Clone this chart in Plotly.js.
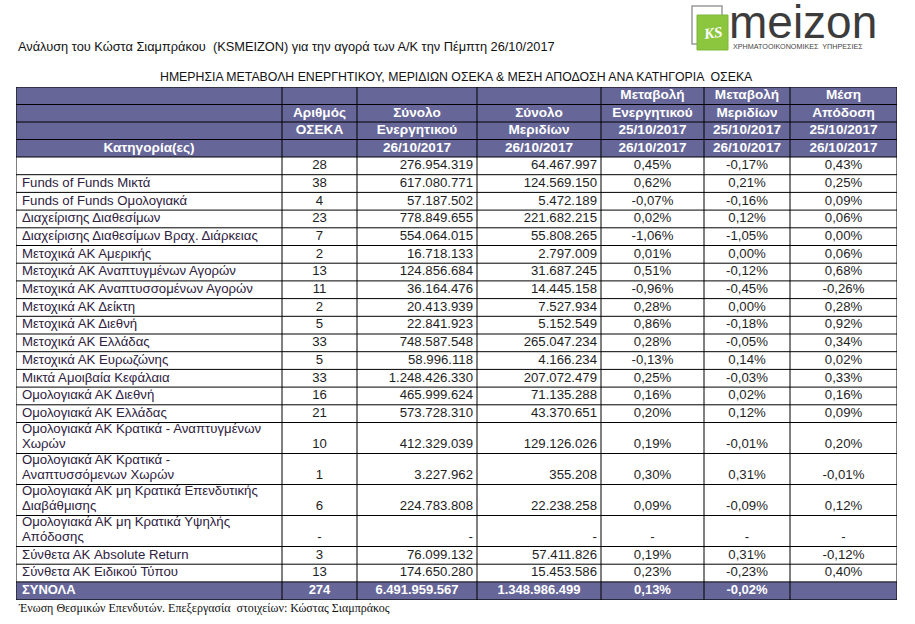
<!DOCTYPE html>
<html><head><meta charset="utf-8">
<script src="https://cdn.plot.ly/plotly-3.0.1.min.js"></script>
<style>html,body{margin:0;padding:0;background:#fff}</style>
</head><body><div id="chart" style="width:915px;height:624px"></div>
<script>
// ---- data ----
const categories = ["", "Funds of Funds Μικτά", "Funds of Funds Ομολογιακά", "Διαχείρισης Διαθεσίμων",
  "Διαχείρισης Διαθεσίμων Βραχ. Διάρκειας", "Μετοχικά ΑΚ Αμερικής", "Μετοχικά ΑΚ Αναπτυγμένων Αγορών",
  "Μετοχικά ΑΚ Αναπτυσσομένων Αγορών", "Μετοχικά ΑΚ Δείκτη", "Μετοχικά ΑΚ Διεθνή", "Μετοχικά ΑΚ Ελλάδας",
  "Μετοχικά ΑΚ Ευρωζώνης", "Μικτά Αμοιβαία Κεφάλαια", "Ομολογιακά ΑΚ Διεθνή", "Ομολογιακά ΑΚ Ελλάδας",
  "Ομολογιακά ΑΚ Κρατικά - Αναπτυγμένων<br>Χωρών", "Ομολογιακά ΑΚ Κρατικά -<br>Αναπτυσσόμενων Χωρών",
  "Ομολογιακά ΑΚ μη Κρατικά Επενδυτικής<br>Διαβάθμισης", "Ομολογιακά ΑΚ μη Κρατικά Υψηλής<br>Απόδοσης",
  "Σύνθετα ΑΚ Absolute Return", "Σύνθετα ΑΚ Ειδικού Τύπου"];
const fundCounts = [28, 38, 4, 23, 7, 2, 13, 11, 2, 5, 33, 5, 33, 16, 21, 10, 1, 6, null, 3, 13];
const totalAssets = [276954319, 617080771, 57187502, 778849655, 554064015, 16718133, 124856684, 36164476,
  20413939, 22841923, 748587548, 58996118, 1248426330, 465999624, 573728310, 412329039, 3227962,
  224783808, null, 76099132, 174650280];
const totalUnits = [64467997, 124569150, 5472189, 221682215, 55808265, 2797009, 31687245, 14445158,
  7527934, 5152549, 265047234, 4166234, 207072479, 71135288, 43370651, 129126026, 355208,
  22238258, null, 57411826, 15453586];
const assetChange = [0.45, 0.62, -0.07, 0.02, -1.06, 0.01, 0.51, -0.96, 0.28, 0.86, 0.28, -0.13, 0.25,
  0.16, 0.20, 0.19, 0.30, 0.09, null, 0.19, 0.23];
const unitChange = [-0.17, 0.21, -0.16, 0.12, -1.05, 0.00, -0.12, -0.45, 0.00, -0.18, -0.05, 0.14, -0.03,
  0.02, 0.12, -0.01, 0.31, -0.09, null, 0.31, -0.23];
const avgReturn = [0.43, 0.25, 0.09, 0.06, 0.00, 0.06, 0.68, -0.26, 0.28, 0.92, 0.34, 0.02, 0.33,
  0.16, 0.09, 0.20, -0.01, 0.12, null, -0.12, 0.40];
const totalsRow = ["ΣΥΝΟΛΑ", 274, 6491959567, 1348986499, 0.13, -0.02, null];
const headerCols = [
  ["", "", "", "Κατηγορία(ες)"],
  ["", "Αριθμός", "ΟΣΕΚΑ", ""],
  ["", "Σύνολο", "Ενεργητικού", "26/10/2017"],
  ["", "Σύνολο", "Μεριδίων", "26/10/2017"],
  ["Μεταβολή", "Ενεργητικού", "25/10/2017", "26/10/2017"],
  ["Μεταβολή", "Μεριδίων", "25/10/2017", "26/10/2017"],
  ["Μέση", "Απόδοση", "25/10/2017", "26/10/2017"]
];
const titleText = "Ανάλυση του Κώστα Σιαμπράκου  (KSMEIZON) για την αγορά των Α/Κ την Πέμπτη 26/10/2017";
const subtitleText = "ΗΜΕΡΗΣΙΑ ΜΕΤΑΒΟΛΗ ΕΝΕΡΓΗΤΙΚΟΥ, ΜΕΡΙΔΙΩΝ ΟΣΕΚΑ & ΜΕΣΗ ΑΠΟΔΟΣΗ ΑΝΑ ΚΑΤΗΓΟΡΙΑ  ΟΣΕΚΑ";
const footerText = "Ένωση Θεσμικών Επενδυτών. Επεξεργασία  στοιχείων: Κώστας Σιαμπράκος";

// ---- styles / geometry ----
const W = 915, H = 624;
const TABLE_LEFT = 16, TABLE_TOP = 87;
const colWidths = [266, 75, 120, 124, 103, 86, 107];
const colAlign = ["left", "center", "right", "right", "center", "center", "center"];
const HEADER_ROW_H = 17.5, ROW_H = 17.7, DBL_ROW_H = 31, TOTAL_ROW_H = 18;
const LINE_GAP = 15;
const HEAD = "#666699";
const FONT = "Liberation Sans, Arial, sans-serif";
const BODY_SIZE = 13.2, HEAD_SIZE = 13.6, TOTAL_SIZE = 13;

// ---- formatting ----
function fmtInt(n) {
  if (n === null || n === undefined) return "-";
  return String(Math.round(n)).replace(/\B(?=(\d{3})+(?!\d))/g, ".");
}
function fmtPct(v) {
  if (v === null || v === undefined) return "-";
  return v.toFixed(2).replace(".", ",") + "%";
}
const nData = categories.length;
const catLines = categories.map(c => c.split("<br>"));
const colFmt = [x => x, fmtInt, fmtInt, fmtInt, fmtPct, fmtPct, fmtPct];
const colData = [categories, fundCounts, totalAssets, totalUnits, assetChange, unitChange, avgReturn];
const totFmt = [x => x, fmtInt, fmtInt, fmtInt, fmtPct, fmtPct, v => (v === null ? "" : fmtPct(v))];

// row geometry
const rowHeights = [];
for (let i = 0; i < 4; i++) rowHeights.push(HEADER_ROW_H);
catLines.forEach(l => rowHeights.push(l.length > 1 ? DBL_ROW_H : ROW_H));
rowHeights.push(TOTAL_ROW_H);
const rowEdges = [0];
rowHeights.forEach(h => rowEdges.push(rowEdges[rowEdges.length - 1] + h));
const tableH = rowEdges[rowEdges.length - 1];
const rowMid = rowHeights.map((h, i) => rowEdges[i] + h / 2);
// y of each text line within a data row
function lineY(rowIdx, k, count) {
  return rowMid[rowIdx] + (k - (count - 1) / 2) * LINE_GAP - (count > 1 ? 1 : 0);
}
const colEdges = [0];
colWidths.forEach(w => colEdges.push(colEdges[colEdges.length - 1] + w));
const tableW = colEdges[colEdges.length - 1];

// ---- traces: one text trace per column ----
const traces = colData.map((arr, j) => {
  const xs = [], ys = [], txt = [], pos = [], clr = [], sz = [];
  const left = colEdges[j], right = colEdges[j + 1], mid = (left + right) / 2;
  const ax = colAlign[j] === "left" ? left + 6 : colAlign[j] === "right" ? right - 4 : mid;
  const tp = colAlign[j] === "left" ? "middle right" : colAlign[j] === "right" ? "middle left" : "middle center";
  headerCols[j].forEach((s, i) => {
    if (!s) return;
    xs.push(mid); ys.push(rowMid[i]); txt.push("<b>" + s + "</b>");
    pos.push("middle center"); clr.push("#ffffff"); sz.push(HEAD_SIZE);
  });
  arr.forEach((v, i) => {
    const r = 4 + i, cnt = catLines[i].length;
    if (j === 0) {
      catLines[i].forEach((ln, k) => {
        if (!ln) return;
        xs.push(ax); ys.push(lineY(r, k, cnt)); txt.push(ln);
        pos.push(tp); clr.push("#2e2140"); sz.push(BODY_SIZE);
      });
    } else {
      xs.push(ax); ys.push(lineY(r, cnt - 1, cnt)); txt.push(colFmt[j](v));
      pos.push(tp); clr.push("#1e1e1e"); sz.push(BODY_SIZE);
    }
  });
  const tv = totFmt[j](totalsRow[j]);
  if (tv) {
    xs.push(j === 0 ? ax : mid); ys.push(rowMid[4 + nData]);
    txt.push("<b>" + tv + "</b>");
    pos.push(j === 0 ? tp : "middle center"); clr.push("#ffffff"); sz.push(TOTAL_SIZE);
  }
  return {
    type: "scatter", mode: "text", x: xs, y: ys, text: txt, textposition: pos,
    textfont: {family: FONT, size: sz, color: clr},
    hoverinfo: "skip", cliponaxis: false, showlegend: false
  };
});

// ---- shapes: fills and grid ----
const shapes = [
  {type: "rect", xref: "x", yref: "y", x0: 0, x1: tableW, y0: 0, y1: rowEdges[4], fillcolor: HEAD, line: {width: 0}, layer: "below"},
  {type: "rect", xref: "x", yref: "y", x0: 0, x1: tableW, y0: rowEdges[4 + nData], y1: tableH, fillcolor: HEAD, line: {width: 0}, layer: "below"}
];
rowEdges.forEach(y => shapes.push({type: "line", xref: "x", yref: "y", x0: 0, x1: tableW, y0: y, y1: y,
  line: {color: "#000000", width: 1}, layer: "below"}));
colEdges.forEach(x => shapes.push({type: "line", xref: "x", yref: "y", x0: x, x1: x, y0: 0, y1: tableH,
  line: {color: "#000000", width: 1}, layer: "below"}));
// logo
shapes.push({type: "rect", xref: "paper", yref: "paper", x0: 692 / W, x1: 722 / W, y0: 1 - 44 / H, y1: 1 - 6 / H,
  line: {color: "#9a9a9a", width: 1.5}, fillcolor: "#ffffff"});
shapes.push({type: "rect", xref: "paper", yref: "paper", x0: 697 / W, x1: 728 / W, y0: 1 - 50 / H, y1: 1 - 15 / H,
  line: {color: "#7fb53a", width: 1}, fillcolor: "#8cc63e"});

const layout = {
  width: W, height: H,
  margin: {l: 0, r: 0, t: 0, b: 0},
  paper_bgcolor: "#ffffff", plot_bgcolor: "rgba(0,0,0,0)",
  showlegend: false,
  xaxis: {domain: [TABLE_LEFT / W, (TABLE_LEFT + tableW) / W], range: [0, tableW], visible: false, fixedrange: true},
  yaxis: {domain: [1 - (TABLE_TOP + tableH) / H, 1 - TABLE_TOP / H], range: [tableH, 0], visible: false, fixedrange: true},
  shapes: shapes,
  annotations: [
    {xref: "paper", yref: "paper", x: 16 / W, y: 1 - 47 / H, xanchor: "left", yanchor: "middle",
     text: titleText, showarrow: false, font: {family: FONT, size: 12.8, color: "#111111"}},
    {xref: "paper", yref: "paper", x: 456 / W, y: 1 - 77 / H, xanchor: "center", yanchor: "middle",
     text: subtitleText, showarrow: false, font: {family: FONT, size: 12.3, color: "#111111"}},
    {xref: "paper", yref: "paper", x: 16 / W, y: 1 - 608 / H, xanchor: "left", yanchor: "middle",
     text: footerText, showarrow: false, font: {family: "Liberation Serif, Times New Roman, serif", size: 12, color: "#111111"}},
    {xref: "paper", yref: "paper", x: 727 / W, y: 1 - 22 / H, xanchor: "left", yanchor: "middle",
     height: 38, valign: "middle",
     text: "meizon", showarrow: false, font: {family: FONT, size: 46, color: "#3c3c3c"}},
    {xref: "paper", yref: "paper", x: 731 / W, y: 1 - 47 / H, xanchor: "left", yanchor: "middle",
     text: "ΧΡΗΜΑΤΟΟΙΚΟΝΟΜΙΚΕΣ  ΥΠΗΡΕΣΙΕΣ", showarrow: false, font: {family: FONT, size: 7.2, color: "#444444"}},
    {xref: "paper", yref: "paper", x: 712 / W, y: 1 - 33 / H, xanchor: "center", yanchor: "middle",
     text: "<b><i>KS</i></b>", showarrow: false, textangle: -8,
     font: {family: "Liberation Serif, serif", size: 15, color: "#ffffff"}}
  ]
};

Plotly.newPlot("chart", traces, layout, {displayModeBar: false, staticPlot: true});
</script>
</body></html>
